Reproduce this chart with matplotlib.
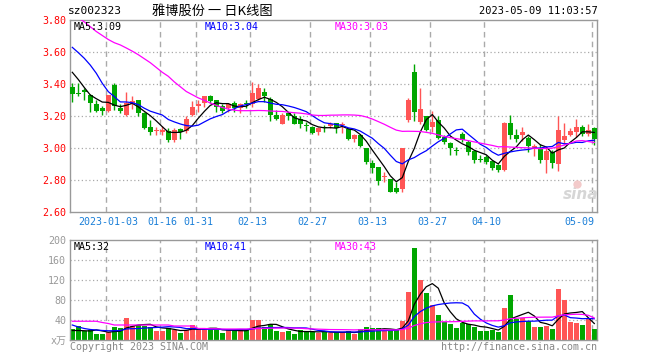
import numpy as np
import pandas as pd
import matplotlib
matplotlib.use('Agg')
import matplotlib.pyplot as plt

plt.rcParams['font.family'] = ['DejaVu Sans Mono', 'Noto Sans CJK SC']

# ---- daily candles, one entry per trading day ----
opens = [3.38, 3.345, 3.365, 3.33, 3.28, 3.25, 3.233, 3.395, 3.25, 3.21,
         3.275, 3.30, 3.22, 3.13, 3.11, 3.105, 3.105, 3.05, 3.12, 3.11,
         3.21, 3.265, 3.285, 3.33, 3.30, 3.265, 3.255, 3.285, 3.25, 3.28,
         3.275, 3.31, 3.35, 3.305, 3.21, 3.155, 3.22, 3.20, 3.18, 3.145,
         3.135, 3.105, 3.13, 3.14, 3.155, 3.145, 3.12, 3.055, 3.085, 3.00,
         2.91, 2.885, 2.82, 2.805, 2.755, 2.745, 3.175, 3.48, 3.165, 3.20,
         3.135, 3.175, 3.07, 3.035, 2.99, 3.09, 3.04, 2.98, 2.93, 2.945,
         2.92, 2.895, 2.865, 3.16, 3.085, 3.08, 3.065, 3.005, 3.00, 2.925,
         2.98, 2.905, 3.05, 3.085, 3.10, 3.13, 3.09, 3.125]
closes = [3.34, 3.34, 3.35, 3.285, 3.235, 3.235, 3.33, 3.265, 3.235, 3.28,
          3.295, 3.22, 3.125, 3.10, 3.115, 3.115, 3.05, 3.115, 3.105, 3.18,
          3.26, 3.28, 3.327, 3.295, 3.26, 3.235, 3.28, 3.25, 3.275, 3.275,
          3.345, 3.375, 3.325, 3.21, 3.18, 3.21, 3.20, 3.155, 3.15, 3.14,
          3.095, 3.13, 3.125, 3.155, 3.125, 3.15, 3.055, 3.085, 3.015, 2.915,
          2.875, 2.795, 2.825, 2.73, 2.73, 3.005, 3.30, 3.23, 3.245, 3.115,
          3.165, 3.065, 3.04, 3.00, 2.985, 3.05, 2.98, 2.925, 2.927, 2.915,
          2.88, 2.865, 3.16, 3.085, 3.055, 3.10, 3.015, 3.015, 2.925, 2.985,
          2.91, 3.115, 3.075, 3.105, 3.13, 3.09, 3.115, 3.055]
highs = [3.41, 3.41, 3.375, 3.34, 3.30, 3.265, 3.335, 3.41, 3.28, 3.35,
         3.33, 3.305, 3.225, 3.175, 3.135, 3.14, 3.125, 3.125, 3.125, 3.20,
         3.295, 3.30, 3.33, 3.335, 3.305, 3.28, 3.285, 3.295, 3.285, 3.30,
         3.415, 3.405, 3.375, 3.32, 3.24, 3.22, 3.23, 3.22, 3.20, 3.165,
         3.14, 3.135, 3.145, 3.165, 3.16, 3.165, 3.13, 3.09, 3.09, 3.00,
         2.925, 2.885, 2.85, 2.81, 2.79, 3.005, 3.315, 3.525, 3.38, 3.20,
         3.235, 3.20, 3.085, 3.04, 3.01, 3.10, 3.05, 2.99, 2.96, 2.96,
         2.925, 2.905, 3.165, 3.21, 3.12, 3.135, 3.075, 3.03, 3.03, 3.005,
         2.99, 3.20, 3.16, 3.125, 3.18, 3.145, 3.155, 3.135]
lows = [3.29, 3.33, 3.30, 3.23, 3.23, 3.21, 3.23, 3.24, 3.22, 3.205,
        3.245, 3.20, 3.12, 3.08, 3.08, 3.08, 3.04, 3.04, 3.06, 3.095,
        3.205, 3.23, 3.26, 3.285, 3.23, 3.22, 3.23, 3.23, 3.22, 3.25,
        3.26, 3.30, 3.29, 3.17, 3.175, 3.15, 3.175, 3.15, 3.125, 3.11,
        3.09, 3.08, 3.105, 3.125, 3.095, 3.095, 3.05, 3.04, 3.01, 2.905,
        2.845, 2.77, 2.79, 2.725, 2.72, 2.73, 3.165, 3.17, 3.155, 3.11,
        3.105, 3.06, 3.025, 2.96, 2.96, 3.04, 2.96, 2.91, 2.915, 2.905,
        2.865, 2.85, 2.86, 3.055, 3.04, 3.045, 2.975, 2.95, 2.91, 2.845,
        2.88, 2.86, 3.025, 3.075, 3.07, 3.075, 3.075, 3.02]
# volume in 万 shares
volumes = [22, 28, 18.7, 20, 12, 12, 15.3, 25.3, 23.3, 44,
           28, 30, 29, 26, 18, 18, 24.7, 19.3, 14.7, 20,
           30, 22.7, 22.7, 22, 20, 14.7, 19.3, 20, 19.3, 19.3,
           40, 40, 26.7, 31.3, 18, 16.7, 18, 12.7, 20, 16.7,
           16.7, 14.7, 16.7, 14, 15.3, 15.3, 18, 12, 22, 26,
           23.3, 23.3, 18, 19.3, 19.3, 38.7, 96, 184, 120, 94,
           70, 50, 35.3, 32.7, 24, 34.7, 31.3, 26.7, 18, 18,
           20.7, 16, 64, 90, 42, 43.3, 38, 26.7, 26.7, 28.7,
           22, 102.7, 80, 36.7, 34, 30.7, 41.3, 22]

# moving-average values at the left edge (they depend on days before the window)
price_ma5_head = [3.475, 3.43, 3.38, 3.333]
price_ma10_head = [3.631, 3.598, 3.5625, 3.52, 3.469, 3.406, 3.354, 3.323, 3.29]
price_ma30_head = [3.835, 3.815, 3.79, 3.76, 3.73, 3.705, 3.68, 3.66, 3.646, 3.627,
                   3.607, 3.585, 3.56, 3.535, 3.505, 3.475, 3.45, 3.415, 3.385, 3.355,
                   3.335, 3.315, 3.30, 3.283, 3.268, 3.255, 3.245, 3.238, 3.235]
vol_ma5_head = [19, 19, 18.5, 18]
vol_ma10_head = [30, 26, 23, 21, 20, 19, 18.5, 18.5, 19]
vol_ma30_head = [37.5, 37.5, 37.5, 37.5, 37.5, 35, 33, 30, 30, 30,
                 30, 30, 30, 30, 30, 30, 30, 28, 28, 28,
                 28, 23, 23, 22.5, 22.5, 22, 22, 22, 22]

date_ticks = [6, 15, 21, 30, 40, 50, 60, 69, 87]
date_labels = ['2023-01-03', '01-16', '01-31', '02-13', '02-27',
               '03-13', '03-27', '04-10', '05-09']
price_ticks = [2.60, 2.80, 3.00, 3.20, 3.40, 3.60, 3.80]
vol_ticks = [0, 40, 80, 120, 160, 200]

UP = '#ff5555'
DOWN = '#00a600'
FRAME = '#999999'
W, H = 660, 360


def fig_xy(x, y):
    '''pixel position (from top-left) -> figure fraction'''
    return x / W, 1 - y / H


def moving_average(values, window, head):
    ma = pd.Series(values, dtype=float).rolling(window).mean().to_numpy()
    ma[:len(head)] = head
    return ma


def style_axes(ax, ticks):
    for s in ax.spines.values():
        s.set_color(FRAME)
        s.set_linewidth(1)
    ax.set_xlim(-0.333, 87.5)
    ax.set_xticks(date_ticks)
    ax.set_yticks(ticks)
    ax.tick_params(length=0)
    # dotted price/volume grid, dashed date grid
    for t in ticks[1:-1]:
        ax.axhline(t, color='#aaaaaa', lw=0.9, ls=(0, (1, 2)), zorder=0)
    for t in date_ticks:
        ax.axvline(t - 0.3, color='#aaaaaa', lw=1, ls=(0, (4, 3)), zorder=0)


idx = np.arange(len(closes))
o, c = np.array(opens), np.array(closes)
colors = [UP if cc >= oo else DOWN for oo, cc in zip(o, c)]

fig = plt.figure(figsize=(6.6, 3.6), dpi=100)
ax = fig.add_axes([70.3 / W, 1 - 212.3 / H, 527 / W, 192 / H])
ax_v = fig.add_axes([70.3 / W, 1 - 340 / H, 527 / W, 100 / H])

# ---- price panel ----
style_axes(ax, price_ticks)
ax.set_ylim(2.60, 3.80)
ax.vlines(idx, lows, highs, colors=colors, lw=1, zorder=2)
body_h = np.maximum(np.abs(c - o), 0.006)
ax.bar(idx, body_h, bottom=np.minimum(o, c), width=0.8, color=colors,
       linewidth=0, zorder=3)
ax.plot(idx, moving_average(closes, 5, price_ma5_head), color='black', lw=0.9, zorder=4)
ax.plot(idx, moving_average(closes, 10, price_ma10_head), color='#0000ff', lw=0.9, zorder=4)
ax.plot(idx, moving_average(closes, 30, price_ma30_head), color='#ff00ff', lw=0.9, zorder=4)
ax.set_yticklabels([f'{t:.2f}' for t in price_ticks])
ax.tick_params(axis='y', labelcolor='#ff0000', labelsize=7.2, pad=3)
ax.tick_params(axis='x', labelcolor='#1a7fd8', labelsize=7.2, pad=3.5)
ax.set_xticklabels(date_labels)
ax.get_xticklabels()[-1].set_ha('right')
ax.get_xticklabels()[-1].set_x(date_ticks[-1])

# sina watermark
ax.text(0.968, 0.055, 'sina', transform=ax.transAxes, ha='center', va='bottom',
        fontsize=11, fontweight='bold', style='italic', color='#d6d6d6',
        family='DejaVu Sans', zorder=1)
ax.plot([0.962], [0.15], 'o', transform=ax.transAxes, ms=6, color='#f3caca',
        mec='none', zorder=1)

# ---- volume panel ----
style_axes(ax_v, vol_ticks)
ax_v.set_ylim(0, 200)
ax_v.bar(idx, volumes, width=0.8, color=colors, linewidth=0, zorder=2)
ax_v.plot(idx, moving_average(volumes, 5, vol_ma5_head), color='black', lw=0.9, zorder=3)
ax_v.plot(idx, moving_average(volumes, 10, vol_ma10_head), color='#0000ff', lw=0.9, zorder=3)
ax_v.plot(idx, moving_average(volumes, 30, vol_ma30_head), color='#ff00ff', lw=0.9, zorder=3)
ax_v.set_xticklabels([])
ax_v.set_yticklabels(['x万'] + [str(t) for t in vol_ticks[1:]])
ax_v.tick_params(axis='y', labelcolor=FRAME, labelsize=7.2, pad=3)

# ---- header and MA captions ----
fig.text(*fig_xy(68, 11), 'sz002323', fontsize=8, va='center', ha='left')
fig.text(*fig_xy(212, 11), '雅博股份 一 日K线图', fontsize=9.5, va='center',
         ha='center', family=['Noto Sans CJK SC', 'DejaVu Sans'])
fig.text(*fig_xy(598, 11), '2023-05-09 11:03:57', fontsize=7.5, va='center', ha='right')

for x, txt, col in [(74, 'MA5:3.09', 'black'), (205, 'MA10:3.04', '#0000ff'),
                    (335, 'MA30:3.03', '#ff00ff')]:
    fig.text(*fig_xy(x, 26.5), txt, fontsize=7.2, color=col, va='center')
for x, txt, col in [(74, 'MA5:32', 'black'), (205, 'MA10:41', '#0000ff'),
                    (335, 'MA30:43', '#ff00ff')]:
    fig.text(*fig_xy(x, 246.5), txt, fontsize=7.2, color=col, va='center')

fig.text(*fig_xy(70, 346.5), 'Copyright 2023 SINA.COM', fontsize=7.2,
         color='#888888', va='center')
fig.text(*fig_xy(597, 346.5), 'http://finance.sina.com.cn', fontsize=7.2,
         color='#888888', va='center', ha='right')

fig.savefig('out.png', dpi=100, facecolor='white')
